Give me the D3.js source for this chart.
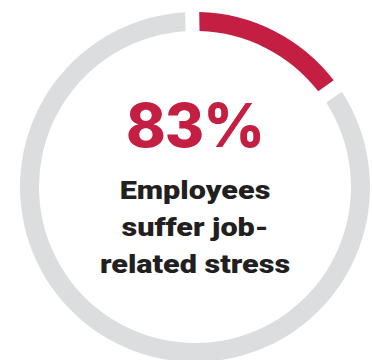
<!DOCTYPE html>
<html>
<head>
<meta charset="utf-8">
<script src="https://cdn.jsdelivr.net/npm/d3@7"></script>
<style>
  html, body { margin: 0; padding: 0; background: #fff; }
  svg { display: block; }
</style>
</head>
<body>
<script>
// ring segments (share of the full circle, as drawn)
var segmentNames = ['stressed', 'rest'];
var segmentValues = [14.5, 85.5];
var segmentColors = ['#C41F42', '#DCDDDF'];

// centre labels
var headline = '83%';
var captionLines = ['Employees', 'suffer job-', 'related stress'];

var width = 372;
var height = 360;
var cx = 195, cy = 187;
var outerR = 175, innerR = 156;

var svg = d3.select('body')
    .append('svg')
    .attr('width', width)
    .attr('height', height);

var g = svg.append('g')
    .attr('transform', `translate(${cx}, ${cy})`);

var pie = d3.pie()
    .sort(null)
    .startAngle(-0.016)
    .endAngle(-0.016 + 2 * Math.PI)
    .padAngle(0.085);

var arc = d3.arc()
    .innerRadius(innerR)
    .outerRadius(outerR)
    .padRadius(165);

g.selectAll('path')
    .data(pie(segmentValues))
    .enter()
        .append('path')
        .attr('d', arc)
        .attr('fill', function(d, i) { return segmentColors[i]; });

g.append('text')
    .attr('x', 0)
    .attr('y', 146.5 - cy)
    .attr('text-anchor', 'middle')
    .attr('font-family', 'Inter, "Open Sans", sans-serif')
    .attr('font-weight', 800)
    .attr('font-size', 60)
    .attr('letter-spacing', -1)
    .attr('fill', segmentColors[0])
    .text(headline);

// heavy grotesque caption: Roboto Black stretched a bit wider
var caption = g.append('g')
    .attr('transform', 'scale(1.2, 1)');

caption.selectAll('text')
    .data(captionLines)
    .enter()
        .append('text')
        .attr('x', 0)
        .attr('y', function(d, i) { return 198.5 - cy + i * 37.5; })
        .attr('text-anchor', 'middle')
        .attr('font-family', 'Roboto, "Liberation Sans", sans-serif')
        .attr('font-weight', 900)
        .attr('font-size', 25.5)
        .attr('fill', '#231F20')
        .text(function(d) { return d; });
</script>
</body>
</html>
